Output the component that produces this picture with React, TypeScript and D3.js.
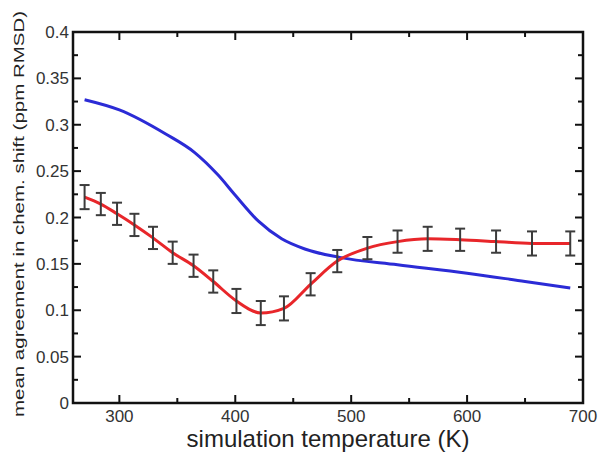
import React from "react";
import * as d3 from "d3";

// temperatures of the replicas (K)
const temps = [270, 284, 298, 313, 329, 346, 364, 381, 401, 422, 442, 465, 488, 514, 540, 566, 594, 625, 656, 689];
// mean agreement (ppm RMSD) with error
const agreement = [0.222, 0.2145, 0.204, 0.192, 0.178, 0.162, 0.148, 0.131, 0.11, 0.097, 0.102, 0.128, 0.153, 0.167, 0.174, 0.177, 0.176, 0.174, 0.172, 0.172];
const errors = [0.013, 0.012, 0.012, 0.012, 0.012, 0.012, 0.012, 0.012, 0.013, 0.013, 0.013, 0.012, 0.012, 0.012, 0.012, 0.013, 0.012, 0.012, 0.013, 0.013];

// second curve
const blueT = [270, 300, 340, 365, 385, 400, 420, 440, 460, 490, 540, 600, 650, 689];
const blueV = [0.327, 0.316, 0.29, 0.27, 0.246, 0.224, 0.196, 0.177, 0.166, 0.157, 0.149, 0.14, 0.131, 0.124];

const xMajor = [300, 400, 500, 600, 700];
const xMinor = [350, 450, 550, 650];
const yMajor = [0, 0.05, 0.1, 0.15, 0.2, 0.25, 0.3, 0.35, 0.4];
const yMinor = [0.025, 0.075, 0.125, 0.175, 0.225, 0.275, 0.325, 0.375];

const W = 600;
const H = 457;
const left = 73;
const right = 583;
const top = 32;
const bottom = 403;
const font = "'Liberation Sans', Arial, Helvetica, sans-serif";

export default function App() {
  const x = d3.scaleLinear().domain([260, 700]).range([left, right]);
  const y = d3.scaleLinear().domain([0, 0.4]).range([bottom, top]);

  const red = d3
    .line<number>()
    .x((_, i) => x(temps[i]))
    .y((d) => y(d))
    .curve(d3.curveMonotoneX)(agreement);

  const blue = d3
    .line<number>()
    .x((_, i) => x(blueT[i]))
    .y((d) => y(d))
    .curve(d3.curveMonotoneX)(blueV);

  const major = 8;
  const minor = 5;
  const cap = 5;

  return (
    <svg width={W} height={H} style={{ position: "absolute", left: 0, top: 0, background: "#fff" }}>
      {/* curves */}
      <path d={blue ?? ""} fill="none" stroke="#2b2bd6" strokeWidth={3} />
      <path d={red ?? ""} fill="none" stroke="#e8262a" strokeWidth={3} />

      {/* error bars */}
      {temps.map((t, i) => {
        const cx = x(t);
        const y0 = y(agreement[i] - errors[i]);
        const y1 = y(agreement[i] + errors[i]);
        return (
          <g key={i} stroke="#3c3c3c" strokeWidth={2}>
            <line x1={cx} x2={cx} y1={y0} y2={y1} />
            <line x1={cx - cap} x2={cx + cap} y1={y0} y2={y0} />
            <line x1={cx - cap} x2={cx + cap} y1={y1} y2={y1} />
          </g>
        );
      })}

      {/* ticks */}
      <g stroke="#111" strokeWidth={2}>
        {xMajor.map((v) => (
          <g key={"xm" + v}>
            <line x1={x(v)} x2={x(v)} y1={bottom} y2={bottom - major} />
            <line x1={x(v)} x2={x(v)} y1={top} y2={top + major} />
          </g>
        ))}
        {xMinor.map((v) => (
          <g key={"xn" + v}>
            <line x1={x(v)} x2={x(v)} y1={bottom} y2={bottom - minor} />
            <line x1={x(v)} x2={x(v)} y1={top} y2={top + minor} />
          </g>
        ))}
        {yMajor.map((v) => (
          <g key={"ym" + v}>
            <line x1={left} x2={left + major} y1={y(v)} y2={y(v)} />
            <line x1={right} x2={right - major} y1={y(v)} y2={y(v)} />
          </g>
        ))}
        {yMinor.map((v) => (
          <g key={"yn" + v}>
            <line x1={left} x2={left + minor} y1={y(v)} y2={y(v)} />
            <line x1={right} x2={right - minor} y1={y(v)} y2={y(v)} />
          </g>
        ))}
      </g>

      {/* frame */}
      <rect x={left} y={top} width={right - left} height={bottom - top} fill="none" stroke="#111" strokeWidth={2.5} />

      {/* tick labels */}
      <g fontFamily={font} fontSize={17} fill="#333">
        {xMajor.map((v) => (
          <text key={"xl" + v} x={x(v)} y={422} textAnchor="middle">
            {v}
          </text>
        ))}
        {yMajor.map((v) => (
          <text key={"yl" + v} x={69} y={y(v) + 6} textAnchor="end">
            {v === 0 ? "0" : String(v)}
          </text>
        ))}
      </g>

      {/* axis titles */}
      <text x={(left + right) / 2} y={447} textAnchor="middle" fontFamily={font} fontSize={24} fill="#222">
        simulation temperature (K)
      </text>
      <text
        transform={`translate(24, ${(10 + 418) / 2}) rotate(-90)`}
        textAnchor="middle"
        fontFamily={font}
        fontSize={15}
        fill="#222"
        textLength={406}
        lengthAdjust="spacingAndGlyphs"
      >
        mean agreement in chem. shift (ppm RMSD)
      </text>
    </svg>
  );
}
